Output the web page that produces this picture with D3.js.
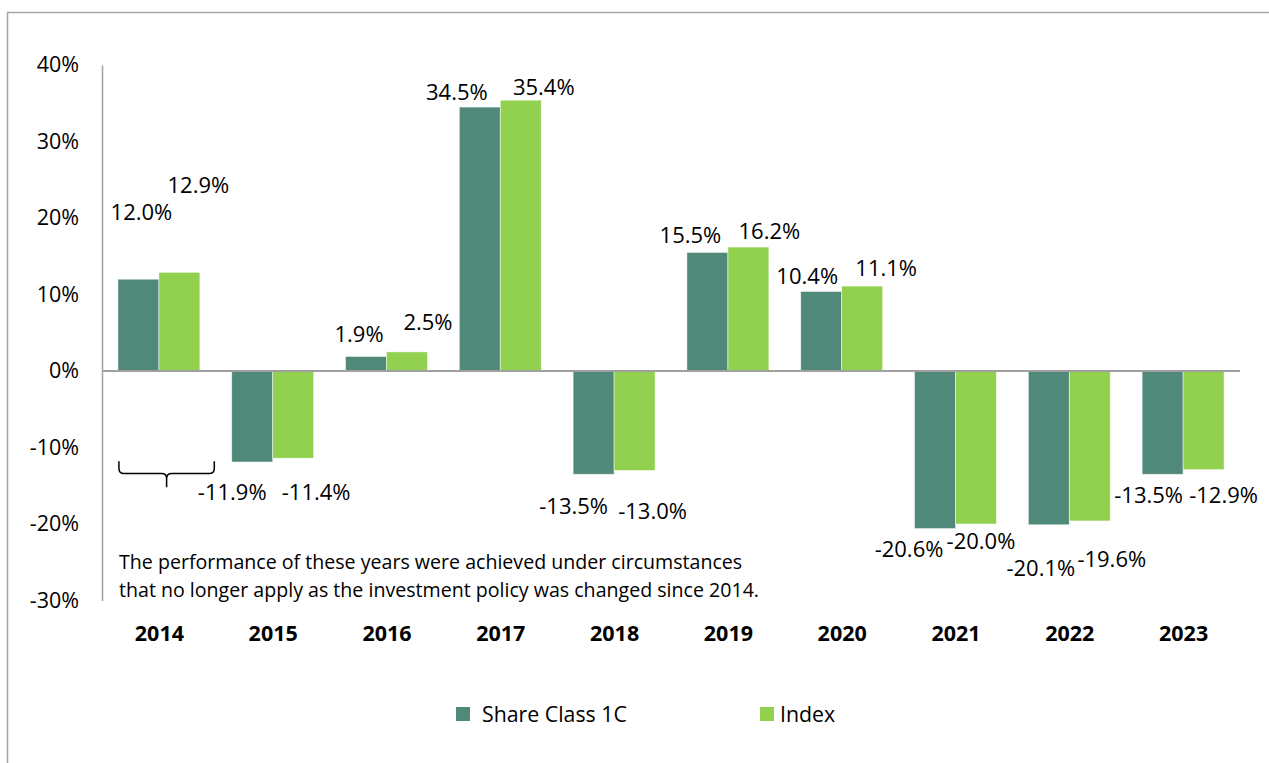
<!DOCTYPE html>
<html>
<head>
<meta charset="utf-8">
<script src="https://cdn.jsdelivr.net/npm/d3@7"></script>
<style>
  body { margin: 0; background: #fff; }
  svg text { font-family: 'Open Sans', 'Noto Sans', sans-serif; fill: #000; }
</style>
</head>
<body>
<div id="chart"></div>
<script>
// data
var years = ['2014', '2015', '2016', '2017', '2018', '2019', '2020', '2021', '2022', '2023']
var shareClass = [12.0, -11.9, 1.9, 34.5, -13.5, 15.5, 10.4, -20.6, -20.1, -13.5]
var indexValues = [12.9, -11.4, 2.5, 35.4, -13.0, 16.2, 11.1, -20.0, -19.6, -12.9]
var seriesNames = ['Share Class 1C', 'Index']
var yTicks = [-30, -20, -10, 0, 10, 20, 30, 40]
var noteLines = [
  'The performance of these years were achieved under circumstances',
  'that no longer apply as the investment policy was changed since 2014.'
]

// hand placed labels in the original, nudges from bar centre / bar end (px)
var labelNudge = [
  [[3, -67], [-20, 30], [-7, -22], [-23, -15], [-20, 32], [-17, -17], [-14, -15], [-26, 20], [-8, 43], [-14, 21]],
  [[19, -87], [23, 34], [21, -30], [23, -13], [18, 41], [21, -16], [24, -18], [5, 17], [22, 38], [20, 25]]
]

var colors = ['#50887a', '#92d050']

var width = 1269
var height = 763
var margin = { top: 65, left: 102, right: 29, bottom: 162.5 }

var svg = d3.select('#chart')
  .append('svg')
  .attr('width', width)
  .attr('height', height)

// outer frame
svg.append('rect')
  .attr('x', 7.5)
  .attr('y', 12.5)
  .attr('width', 1400)
  .attr('height', 900)
  .attr('fill', 'none')
  .attr('stroke', '#a6a6a6')
  .attr('stroke-width', 1.5)

var xPositionScale = d3.scaleBand()
  .domain(years)
  .range([margin.left, width - margin.right])
  .paddingInner(0.28)
  .paddingOuter(0.14)

var xSeriesScale = d3.scaleBand()
  .domain([0, 1])
  .range([0, xPositionScale.bandwidth()])

var yPositionScale = d3.scaleLinear()
  .domain([-30, 40])
  .range([height - margin.bottom, margin.top])

var rows = years.map(function(year, i) {
  return { year: year, values: [shareClass[i], indexValues[i]] }
})

// y axis line + tick labels
var yAxis = d3.axisLeft(yPositionScale)
  .tickValues(yTicks)
  .tickSize(0)
  .tickPadding(23)
  .tickFormat(function(d) { return d + '%' })

var yAxisG = svg.append('g')
  .attr('class', 'axis y-axis')
  .attr('transform', 'translate(' + margin.left + ',0)')
  .call(yAxis)
yAxisG.select('.domain').attr('stroke', '#a0a0a0').attr('stroke-width', 1.5)
yAxisG.selectAll('text')
  .attr('font-size', 21.5)
  .attr('font-family', "'Open Sans', sans-serif")
  .attr('fill', '#000')

// bars
var groups = svg.selectAll('.year-group')
  .data(rows)
  .enter()
  .append('g')
  .attr('class', 'year-group')
  .attr('transform', function(d) { return 'translate(' + xPositionScale(d.year) + ',0)' })

groups.selectAll('rect')
  .data(function(d) { return d.values })
  .enter()
  .append('rect')
  .attr('x', function(d, i) { return xSeriesScale(i) })
  .attr('width', xSeriesScale.bandwidth())
  .attr('y', function(d) { return yPositionScale(Math.max(0, d)) })
  .attr('height', function(d) { return Math.abs(yPositionScale(d) - yPositionScale(0)) })
  .attr('fill', function(d, i) { return colors[i] })
  .attr('stroke', '#ffffff')
  .attr('stroke-opacity', 0.6)
  .attr('stroke-width', 0.8)

// zero line
svg.append('line')
  .attr('x1', margin.left)
  .attr('x2', width - margin.right)
  .attr('y1', yPositionScale(0))
  .attr('y2', yPositionScale(0))
  .attr('stroke', '#a0a0a0')
  .attr('stroke-width', 2)

// data labels
groups.each(function(row, yi) {
  var g = d3.select(this)
  row.values.forEach(function(v, si) {
    var nudge = labelNudge[si][yi]
    g.append('text')
      .text(v.toFixed(1) + '%')
      .attr('x', xSeriesScale(si) + xSeriesScale.bandwidth() / 2 + nudge[0])
      .attr('y', yPositionScale(v) + nudge[1])
      .attr('dy', '0.36em')
      .attr('font-size', 22)
      .attr('text-anchor', 'middle')
  })
})

// year labels
svg.selectAll('.year-label')
  .data(years)
  .enter()
  .append('text')
  .attr('class', 'year-label')
  .text(function(d) { return d })
  .attr('x', function(d) { return xPositionScale(d) + xPositionScale.bandwidth() / 2 + 0.5 })
  .attr('y', 633)
  .attr('dy', '0.36em')
  .attr('font-size', 21.5)
  .attr('font-weight', 'bold')
  .attr('text-anchor', 'middle')

// brace under 2014
var bx0 = xPositionScale('2014') + 1
var bx1 = xPositionScale('2014') + xPositionScale.bandwidth() +
  xPositionScale.paddingInner() * xPositionScale.step() / 2 - 1.5
var bxm = (bx0 + bx1) / 2
var byTop = yPositionScale(-11.8)
var byMid = yPositionScale(-13.4)
var byTip = yPositionScale(-15.2)
var r = 5
svg.append('path')
  .attr('d',
    'M' + bx0 + ',' + byTop +
    ' L' + bx0 + ',' + (byMid - r) +
    ' Q' + bx0 + ',' + byMid + ' ' + (bx0 + r) + ',' + byMid +
    ' L' + (bxm - r) + ',' + byMid +
    ' Q' + bxm + ',' + byMid + ' ' + bxm + ',' + (byMid + r) +
    ' L' + bxm + ',' + byTip +
    ' M' + bxm + ',' + (byMid + r) +
    ' Q' + bxm + ',' + byMid + ' ' + (bxm + r) + ',' + byMid +
    ' L' + (bx1 - r) + ',' + byMid +
    ' Q' + bx1 + ',' + byMid + ' ' + bx1 + ',' + (byMid - r) +
    ' L' + bx1 + ',' + byTop)
  .attr('fill', 'none')
  .attr('stroke', '#000')
  .attr('stroke-width', 1.5)

// note text
svg.selectAll('.note')
  .data(noteLines)
  .enter()
  .append('text')
  .attr('class', 'note')
  .text(function(d) { return d })
  .attr('x', 119)
  .attr('y', function(d, i) { return 562 + i * 28 })
  .attr('dy', '0.36em')
  .attr('font-size', 19.6)

// legend
var legendX = [456, 760]
var legend = svg.selectAll('.legend')
  .data(seriesNames)
  .enter()
  .append('g')
  .attr('class', 'legend')
  .attr('transform', function(d, i) { return 'translate(' + legendX[i] + ',714)' })

legend.append('rect')
  .attr('x', 0)
  .attr('y', -7)
  .attr('width', 14)
  .attr('height', 14)
  .attr('fill', function(d, i) { return colors[i] })

legend.append('text')
  .text(function(d) { return d })
  .attr('x', function(d, i) { return i === 0 ? 26 : 20 })
  .attr('y', 0)
  .attr('dy', '0.36em')
  .attr('font-size', 21.3)
</script>
</body>
</html>
